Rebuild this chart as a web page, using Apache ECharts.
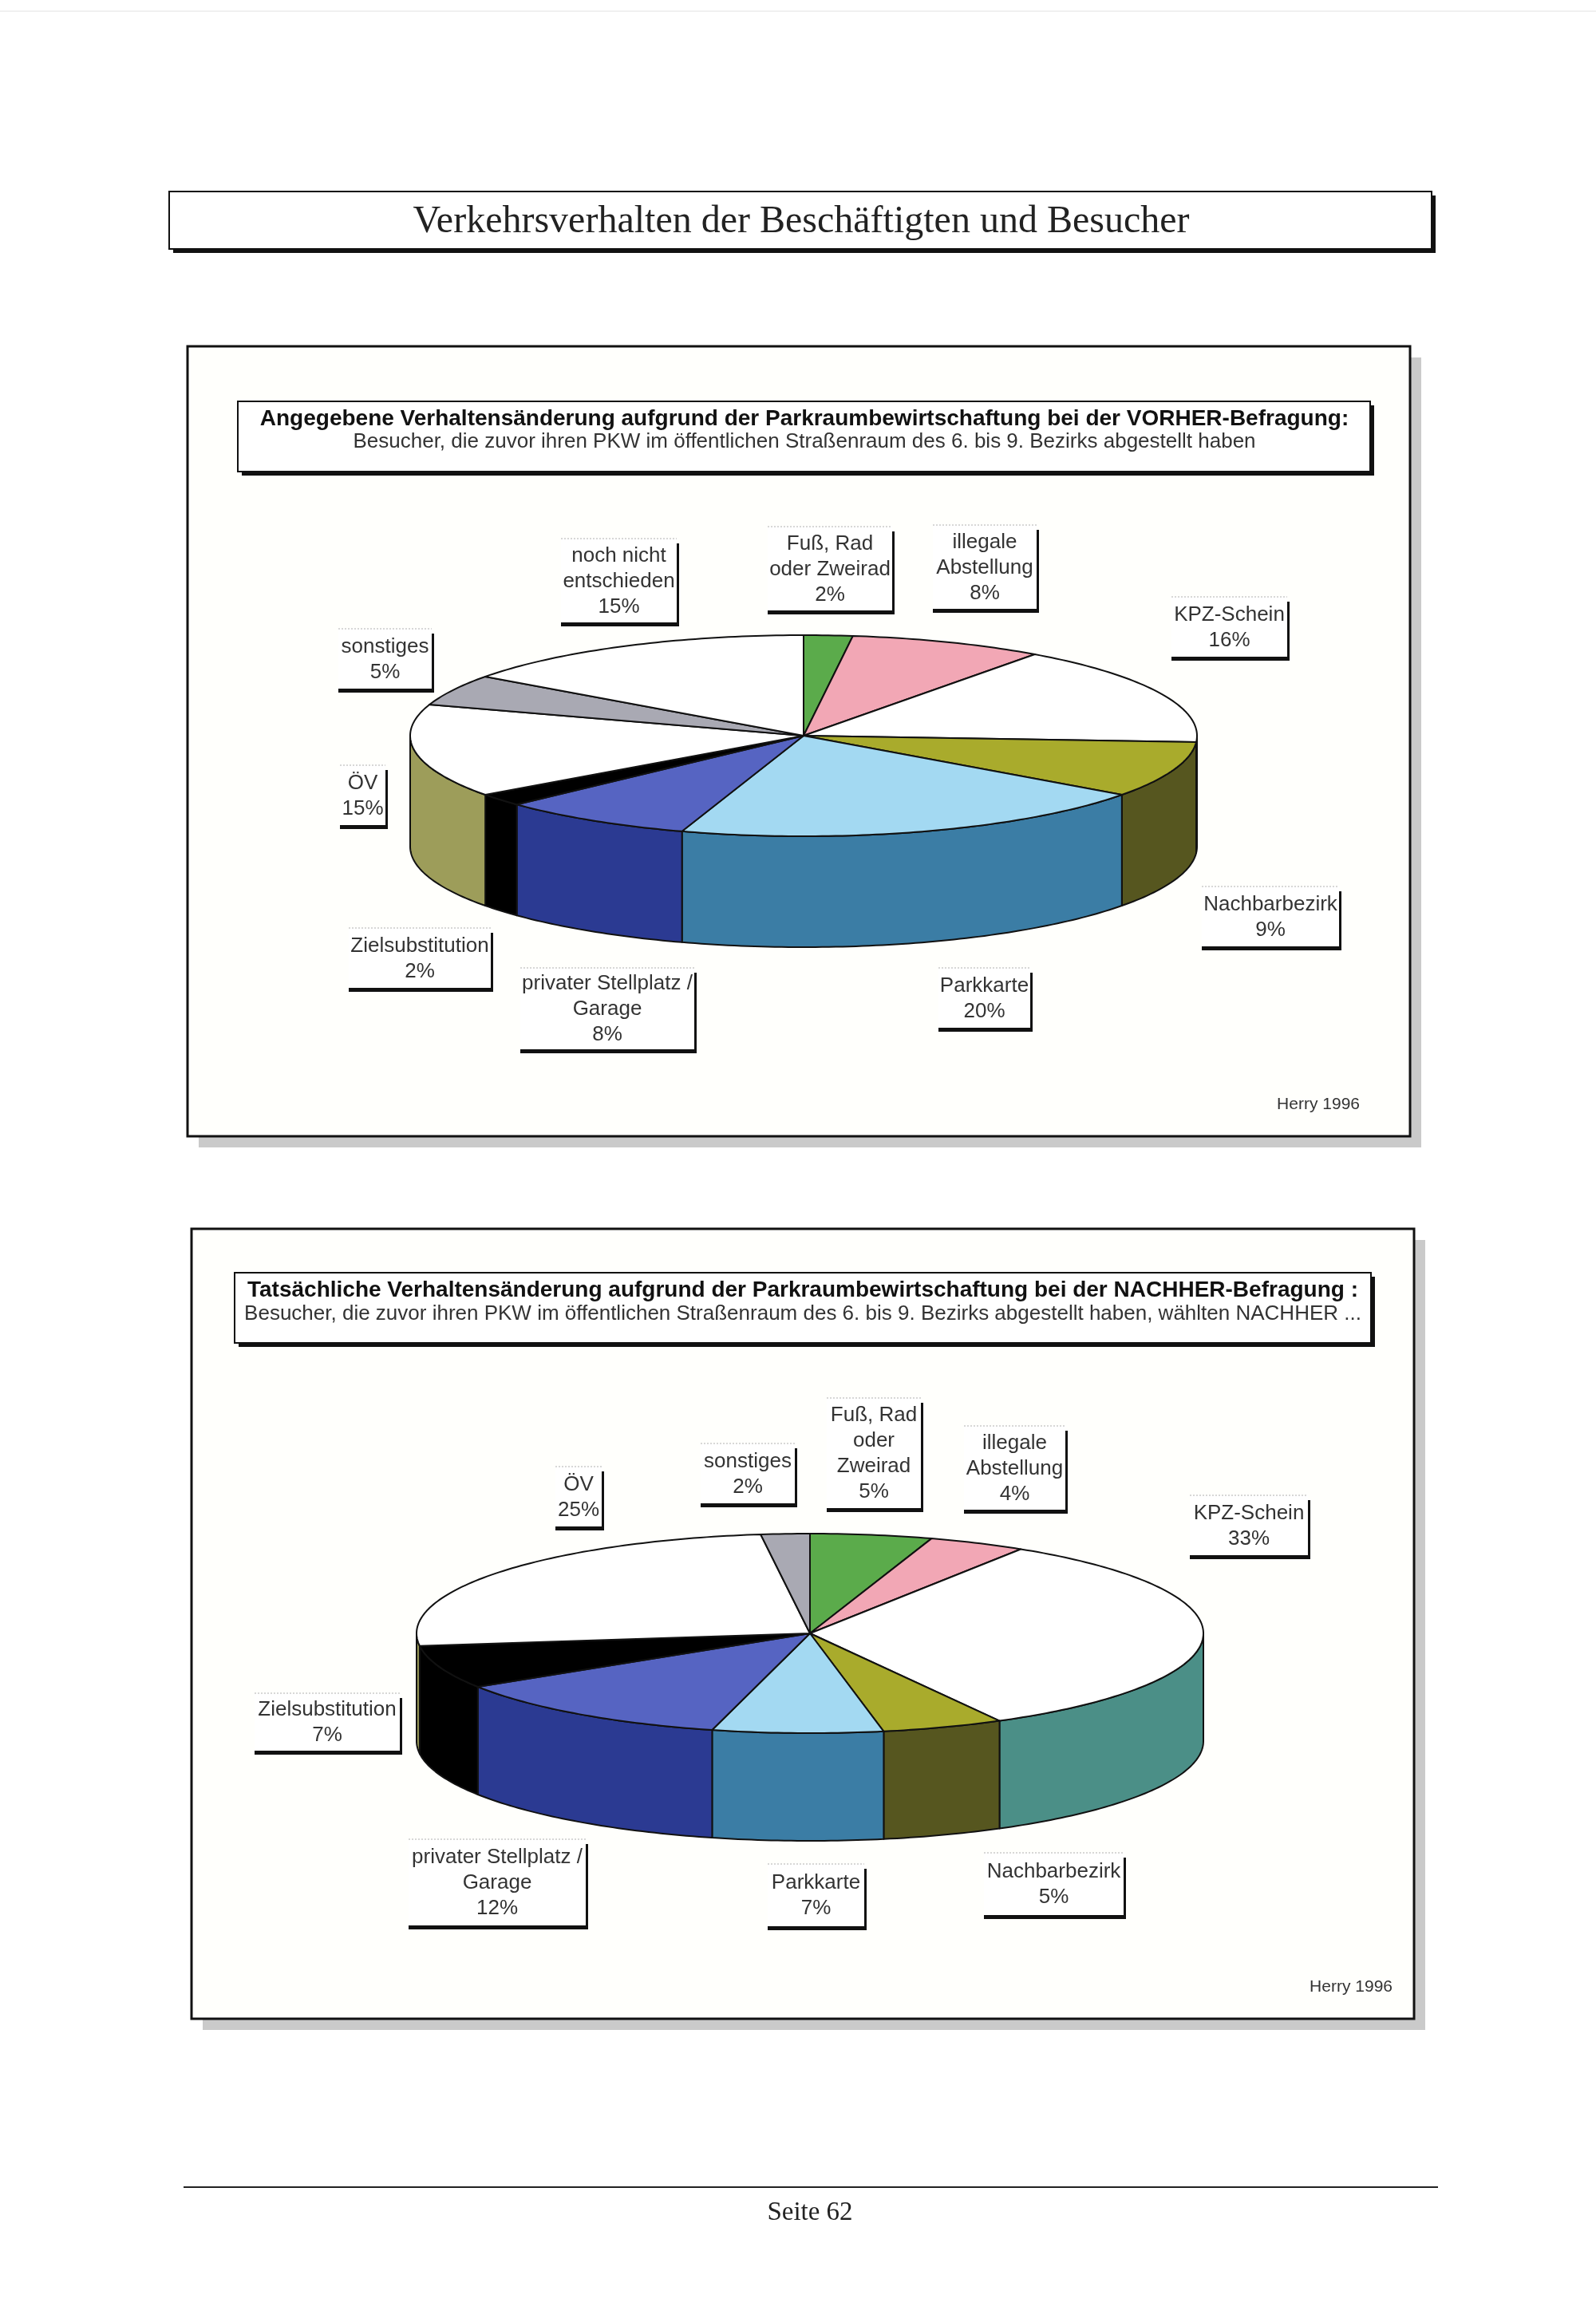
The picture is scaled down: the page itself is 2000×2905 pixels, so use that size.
<!DOCTYPE html>
<html>
<head>
<meta charset="utf-8">
<script src="https://cdn.jsdelivr.net/npm/echarts@6/dist/echarts.min.js"></script>
<style>
  html, body { margin: 0; padding: 0; background: #ffffff; }
  #page { width: 2000px; height: 2905px; }
</style>
</head>
<body>
<div id="page"></div>
<script>
// ---- data ----
var pageTitle = 'Verkehrsverhalten der Beschäftigten und Besucher';
var titleBefore = 'Angegebene Verhaltensänderung aufgrund der Parkraumbewirtschaftung bei der VORHER-Befragung:';
var subBefore = 'Besucher, die zuvor ihren PKW im öffentlichen Straßenraum des 6. bis 9. Bezirks abgestellt haben';
var titleAfter = 'Tatsächliche Verhaltensänderung aufgrund der Parkraumbewirtschaftung bei der NACHHER-Befragung :';
var subAfter = 'Besucher, die zuvor ihren PKW im öffentlichen Straßenraum des 6. bis 9. Bezirks abgestellt haben, wählten NACHHER ...';
var sourceNote = 'Herry 1996';
var pageNote = 'Seite 62';

// categories, clockwise from 12 o'clock
var keysBefore = ['fuss', 'illegal', 'kpz', 'nachbar', 'parkkarte', 'privat', 'ziel', 'oev', 'sonst', 'noch'];
var catsBefore = ['Fuß, Rad\noder Zweirad', 'illegale\nAbstellung', 'KPZ-Schein', 'Nachbarbezirk', 'Parkkarte',
  'privater Stellplatz /\nGarage', 'Zielsubstitution', 'ÖV', 'sonstiges', 'noch nicht\nentschieden'];
var valsBefore = [2, 8, 16, 9, 20, 8, 2, 15, 5, 15];

var keysAfter = ['fuss', 'illegal', 'kpz', 'nachbar', 'parkkarte', 'privat', 'ziel', 'oev', 'sonst'];
var catsAfter = ['Fuß, Rad\noder\nZweirad', 'illegale\nAbstellung', 'KPZ-Schein', 'Nachbarbezirk', 'Parkkarte',
  'privater Stellplatz /\nGarage', 'Zielsubstitution', 'ÖV', 'sonstiges'];
var valsAfter = [5, 4, 33, 5, 7, 12, 7, 25, 2];

// ---- styles ----
var topColor = {
  fuss: '#5bab4b', illegal: '#f2a7b5', kpz: '#ffffff', nachbar: '#a9ab2c', parkkarte: '#a3d9f2',
  privat: '#5664c2', ziel: '#000000', oev: '#ffffff', sonst: '#a9a9b3', noch: '#ffffff'
};
var sideColor = {
  fuss: '#3f7f34', illegal: '#c07a88', kpz: '#4b8f87', nachbar: '#56561f', parkkarte: '#3b7da5',
  privat: '#2b3a92', ziel: '#000000', oev: '#9d9d5a', sonst: '#77777f', noch: '#cfcfcf'
};

var geoBefore = { cx: 1007, cy: 922, rx: 493, ry: 126, depth: 139 };
var geoAfter = { cx: 1015, cy: 2047, rx: 493, ry: 125, depth: 135 };

// label boxes [x, y, w, h] in category order
var boxesBefore = [
  [962, 660, 156, 105], [1169, 658, 130, 105], [1468, 748, 145, 75], [1506, 1111, 172, 75],
  [1176, 1213, 115, 75], [652, 1213, 218, 102], [437, 1163, 178, 75], [426, 959, 57, 75],
  [424, 788, 117, 75], [703, 675, 145, 105]
];
var boxesAfter = [
  [1036, 1752, 118, 138], [1208, 1787, 127, 105], [1491, 1874, 148, 75], [1233, 2322, 175, 78],
  [962, 2336, 121, 78], [512, 2305, 222, 108], [319, 2122, 182, 72], [696, 1838, 58, 75],
  [878, 1809, 118, 75]
];

var sans = '"Liberation Sans", Arial, sans-serif';
var serif = '"Liberation Serif", "Times New Roman", serif';

function pieSeries(vals, keys, g) {
  var total = vals.reduce(function (a, b) { return a + b; }, 0);
  var acc = 0;
  var data = vals.map(function (v, i) {
    var s = acc / total; acc += v;
    return [s, acc / total, i];
  });
  return {
    type: 'custom',
    coordinateSystem: 'none',
    silent: true,
    animation: false,
    data: data,
    renderItem: function (params, api) {
      var a0 = api.value(0) * 2 * Math.PI;
      var a1 = api.value(1) * 2 * Math.PI;
      var k = keys[api.value(2)];
      function pt(t, dy) { return [g.cx + g.rx * Math.sin(t), g.cy - g.ry * Math.cos(t) + (dy || 0)]; }
      function arc(s, e, dy) {
        var n = Math.max(2, Math.ceil((e - s) / (Math.PI / 180)));
        var out = [];
        for (var j = 0; j <= n; j++) out.push(pt(s + (e - s) * j / n, dy));
        return out;
      }
      var children = [];
      var s = Math.max(a0, Math.PI / 2), e = Math.min(a1, 1.5 * Math.PI);
      if (e > s) {
        var top = arc(s, e, 0);
        var bot = arc(s, e, g.depth).reverse();
        children.push({
          type: 'polygon', shape: { points: top.concat(bot) },
          style: { fill: sideColor[k], stroke: '#111', lineWidth: 2, lineJoin: 'round' }
        });
      }
      children.push({
        type: 'polygon', shape: { points: [[g.cx, g.cy]].concat(arc(a0, a1, 0)) },
        style: { fill: topColor[k], stroke: '#111', lineWidth: 2, lineJoin: 'round' }
      });
      return { type: 'group', children: children };
    }
  };
}

function rect(x, y, w, h, fill, extra) {
  var st = { fill: fill };
  if (extra) for (var p in extra) st[p] = extra[p];
  return { type: 'rect', shape: { x: x, y: y, width: w, height: h }, style: st, silent: true };
}
function text(x, y, t, font, align, color, lh) {
  return {
    type: 'text', x: x, y: y, silent: true,
    style: { text: t, font: font, align: align || 'center', verticalAlign: 'middle', fill: color || '#222', lineHeight: lh || 32 }
  };
}
function labelBox(b, t) {
  var x = b[0], y = b[1], w = b[2], h = b[3];
  return [
    rect(x, y, w, h, '#ffffff'),
    { type: 'line', silent: true, shape: { x1: x, y1: y, x2: x + w, y2: y }, style: { stroke: '#b0b0b0', lineWidth: 1, lineDash: [2, 2] } },
    rect(x + w, y + 6, 3, h - 1, '#111'),
    rect(x, y + h, w + 3, 5, '#111'),
    text(x + w / 2, y + h / 2 + 1, t, '26px ' + sans, 'center', '#333', 32)
  ];
}
function panel(x, y, w, h) {
  return [
    rect(x + 14, y + 14, w, h, '#cacaca'),
    rect(x, y, w, h, '#fffffc', { stroke: '#111', lineWidth: 3 })
  ];
}
function headBox(x, y, w, h) {
  return [
    rect(x + 5, y + 5, w, h, '#111'),
    rect(x, y, w, h, '#ffffff', { stroke: '#111', lineWidth: 2 })
  ];
}

var graphics = [];
graphics.push({ type: 'line', silent: true, shape: { x1: 0, y1: 14, x2: 2000, y2: 14 }, style: { stroke: '#e2e2e2', lineWidth: 1 } });
graphics = graphics.concat(headBox(212, 240, 1582, 72));
graphics.push(text(1004, 278, pageTitle, '48px ' + serif, 'center', '#222'));

graphics = graphics.concat(panel(235, 434, 1532, 990));
graphics = graphics.concat(headBox(298, 503, 1419, 88));
graphics.push(text(1008, 525, titleBefore, 'bold 28px ' + sans, 'center', '#111'));
graphics.push(text(1008, 554, subBefore, '26px ' + sans, 'center', '#333'));
graphics.push(text(1704, 1384, sourceNote, '21px ' + sans, 'right', '#333'));

graphics = graphics.concat(panel(240, 1540, 1532, 990));
graphics = graphics.concat(headBox(294, 1595, 1424, 88));
graphics.push(text(1006, 1617, titleAfter, 'bold 28px ' + sans, 'center', '#111'));
graphics.push(text(1006, 1647, subAfter, '26px ' + sans, 'center', '#333'));
graphics.push(text(1745, 2490, sourceNote, '21px ' + sans, 'right', '#333'));

catsBefore.forEach(function (c, i) {
  graphics = graphics.concat(labelBox(boxesBefore[i], c + '\n' + valsBefore[i] + '%'));
});
catsAfter.forEach(function (c, i) {
  graphics = graphics.concat(labelBox(boxesAfter[i], c + '\n' + valsAfter[i] + '%'));
});

graphics.push({ type: 'line', silent: true, shape: { x1: 230, y1: 2741, x2: 1802, y2: 2741 }, style: { stroke: '#222', lineWidth: 2 } });
graphics.push(text(1015, 2773, pageNote, '33px ' + serif, 'center', '#222'));

var chart = echarts.init(document.getElementById('page'), null, { renderer: 'canvas' });
chart.setOption({
  animation: false,
  backgroundColor: '#ffffff',
  graphic: { elements: graphics.map(function (g) { g.z = 0; return g; }) },
  series: [
    pieSeries(valsBefore, keysBefore, geoBefore),
    pieSeries(valsAfter, keysAfter, geoAfter)
  ]
});
</script>
</body>
</html>
